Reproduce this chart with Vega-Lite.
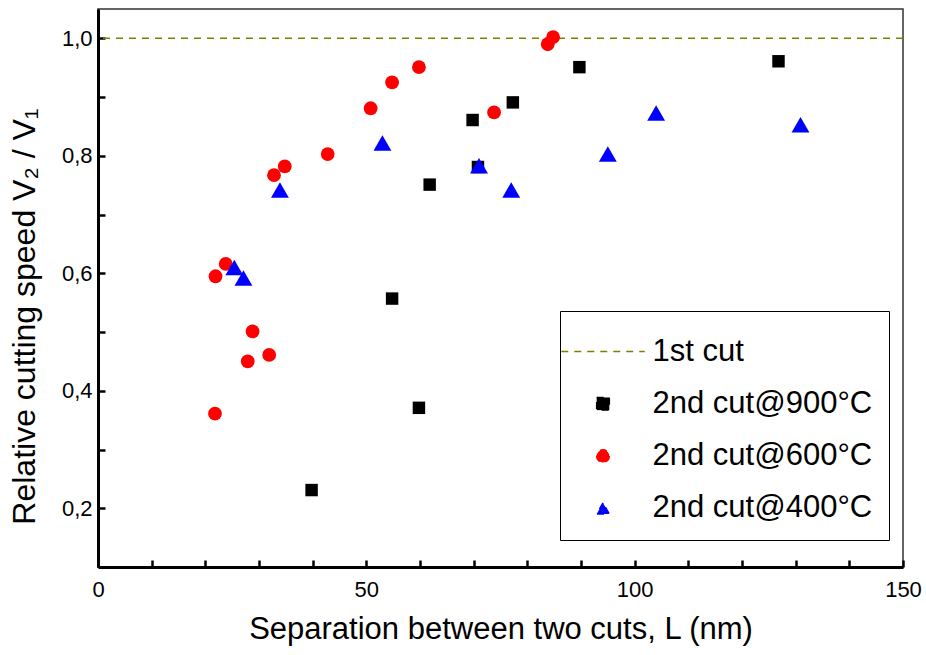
{
  "$schema": "https://vega.github.io/schema/vega-lite/v6.json",
  "width": 805,
  "height": 558,
  "autosize": {"type": "none"},
  "padding": {"left": 98, "top": 9, "right": 23, "bottom": 88},
  "background": "white",
  "config": {
    "view": {"stroke": "#333333", "strokeWidth": 1.5},
    "font": "Liberation Sans",
    "axis": {
      "domainColor": "black", "domainWidth": 3, "tickColor": "black", "tickWidth": 2.5,
      "labelColor": "black", "titleColor": "black", "labelFont": "Liberation Sans", "titleFont": "Liberation Sans",
      "labelFontSize": 22, "titleFontSize": 31, "titleFontWeight": "normal", "grid": false, "tickSize": -7,
      "labelOverlap": false, "labelFlush": false
    },
    "legend": {
      "strokeColor": "black", "fillColor": "white", "padding": 16.5,
      "labelFont": "Liberation Sans", "labelFontSize": 31, "labelColor": "black", "labelLimit": 0,
      "symbolSize": 160, "symbolOffset": 11, "labelOffset": 34, "rowPadding": 20.3,
      "symbolStrokeWidth": 1.5, "symbolDash": [7, 6],
      "titleFontSize": 1, "titlePadding": 7.5
    }
  },
  "data": {
    "values": [
      {"series": "1st cut", "ratio": 1.0},
      {"series": "2nd cut@900°C", "L": 39.8, "ratio": 0.231},
      {"series": "2nd cut@900°C", "L": 54.8, "ratio": 0.557},
      {"series": "2nd cut@900°C", "L": 59.8, "ratio": 0.371},
      {"series": "2nd cut@900°C", "L": 61.8, "ratio": 0.751},
      {"series": "2nd cut@900°C", "L": 69.8, "ratio": 0.861},
      {"series": "2nd cut@900°C", "L": 70.8, "ratio": 0.781},
      {"series": "2nd cut@900°C", "L": 77.3, "ratio": 0.891},
      {"series": "2nd cut@900°C", "L": 89.7, "ratio": 0.951},
      {"series": "2nd cut@900°C", "L": 126.8, "ratio": 0.961},
      {"series": "2nd cut@600°C", "L": 21.8, "ratio": 0.361},
      {"series": "2nd cut@600°C", "L": 21.9, "ratio": 0.595},
      {"series": "2nd cut@600°C", "L": 23.8, "ratio": 0.616},
      {"series": "2nd cut@600°C", "L": 27.9, "ratio": 0.45},
      {"series": "2nd cut@600°C", "L": 28.8, "ratio": 0.501},
      {"series": "2nd cut@600°C", "L": 31.9, "ratio": 0.461},
      {"series": "2nd cut@600°C", "L": 32.8, "ratio": 0.767},
      {"series": "2nd cut@600°C", "L": 34.8, "ratio": 0.782},
      {"series": "2nd cut@600°C", "L": 42.8, "ratio": 0.803},
      {"series": "2nd cut@600°C", "L": 50.8, "ratio": 0.881},
      {"series": "2nd cut@600°C", "L": 54.8, "ratio": 0.925},
      {"series": "2nd cut@600°C", "L": 59.8, "ratio": 0.951},
      {"series": "2nd cut@600°C", "L": 73.8, "ratio": 0.874},
      {"series": "2nd cut@600°C", "L": 83.8, "ratio": 0.99},
      {"series": "2nd cut@600°C", "L": 84.8, "ratio": 1.002},
      {"series": "2nd cut@400°C", "L": 25.4, "ratio": 0.61},
      {"series": "2nd cut@400°C", "L": 27.1, "ratio": 0.592},
      {"series": "2nd cut@400°C", "L": 33.9, "ratio": 0.742},
      {"series": "2nd cut@400°C", "L": 53.0, "ratio": 0.822},
      {"series": "2nd cut@400°C", "L": 71.0, "ratio": 0.783},
      {"series": "2nd cut@400°C", "L": 77.0, "ratio": 0.742},
      {"series": "2nd cut@400°C", "L": 95.0, "ratio": 0.803},
      {"series": "2nd cut@400°C", "L": 104.0, "ratio": 0.873},
      {"series": "2nd cut@400°C", "L": 130.9, "ratio": 0.853}
    ]
  },
  "encoding": {
    "y": {
      "field": "ratio", "type": "quantitative",
      "scale": {"domain": [0.1, 1.05], "nice": false, "zero": false},
      "axis": {
        "title": "Relative cutting speed V₂ / V₁",
        "titleFontSize": 32, "titleY": 307,
        "values": [0.2, 0.3, 0.4, 0.5, 0.6, 0.7, 0.8, 0.9, 1.0],
        "labelExpr": "round(datum.value*10) % 2 === 0 ? replace(format(datum.value, '.1f'), '.', ',') : ''",
        "labelPadding": 13, "titlePadding": 20
      }
    },
    "color": {
      "field": "series", "type": "nominal",
      "scale": {"domain": ["1st cut", "2nd cut@900°C", "2nd cut@600°C", "2nd cut@400°C"], "range": ["#808000", "#000000", "#ff0000", "#0000ff"]},
      "legend": {"title": " ", "orient": "none", "legendX": 462, "legendY": 302}
    },
    "shape": {
      "field": "series", "type": "nominal",
      "scale": {"domain": ["1st cut", "2nd cut@900°C", "2nd cut@600°C", "2nd cut@400°C"], "range": ["M-6.6,0H6.6", "square", "circle", "triangle-up"]},
      "legend": {"title": " ", "orient": "none", "legendX": 462, "legendY": 302}
    }
  },
  "layer": [
    {
      "transform": [{"filter": "datum.series === '1st cut'"}],
      "mark": {"type": "rule", "strokeDash": [7, 6], "strokeWidth": 1.5}
    },
    {
      "transform": [{"filter": "datum.series === '2nd cut@900°C'"}],
      "mark": {"type": "point", "filled": true, "opacity": 1, "size": 155, "strokeWidth": 0},
      "encoding": {
        "x": {
          "field": "L", "type": "quantitative",
          "scale": {"domain": [0, 150], "nice": false, "zero": false},
          "axis": {
            "title": "Separation between two cuts, L (nm)",
            "values": [0, 10, 20, 30, 40, 50, 60, 70, 80, 90, 100, 110, 120, 130, 140, 150],
            "labelExpr": "datum.value % 50 === 0 ? datum.label : ''",
            "labelPadding": 19, "titlePadding": 14
          }
        }
      }
    },
    {
      "transform": [{"filter": "datum.series === '2nd cut@600°C'"}],
      "mark": {"type": "point", "filled": true, "opacity": 1, "size": 190, "strokeWidth": 0},
      "encoding": {
        "x": {
          "field": "L", "type": "quantitative",
          "scale": {"domain": [0, 150], "nice": false, "zero": false},
          "axis": {
            "title": "Separation between two cuts, L (nm)",
            "values": [0, 10, 20, 30, 40, 50, 60, 70, 80, 90, 100, 110, 120, 130, 140, 150],
            "labelExpr": "datum.value % 50 === 0 ? datum.label : ''",
            "labelPadding": 19, "titlePadding": 14
          }
        }
      }
    },
    {
      "transform": [{"filter": "datum.series === '2nd cut@400°C'"}],
      "mark": {"type": "point", "filled": true, "opacity": 1, "size": 320, "strokeWidth": 0},
      "encoding": {
        "x": {
          "field": "L", "type": "quantitative",
          "scale": {"domain": [0, 150], "nice": false, "zero": false},
          "axis": {
            "title": "Separation between two cuts, L (nm)",
            "values": [0, 10, 20, 30, 40, 50, 60, 70, 80, 90, 100, 110, 120, 130, 140, 150],
            "labelExpr": "datum.value % 50 === 0 ? datum.label : ''",
            "labelPadding": 19, "titlePadding": 14
          }
        }
      }
    }
  ]
}
